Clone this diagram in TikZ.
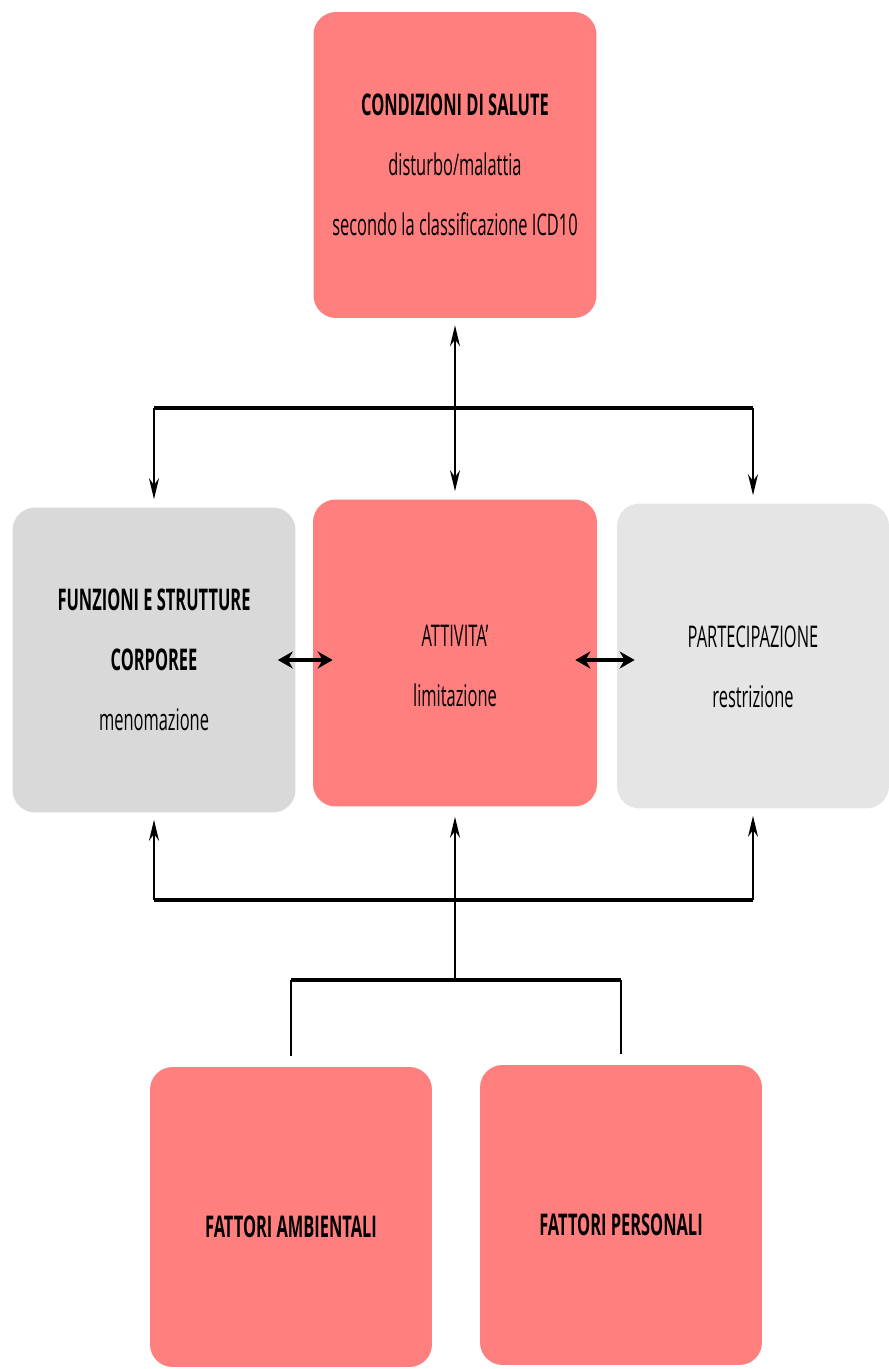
\documentclass[tikz,border=0pt]{standalone}
\usepackage{fontspec}
\setmainfont{Open Sans}[FakeStretch=0.55]
\usetikzlibrary{arrows.meta,positioning}
\definecolor{rosso}{RGB}{255,127,127}
\definecolor{grigio}{RGB}{217,217,217}
\definecolor{grigiochiaro}{RGB}{229,229,229}
\tikzset{
  box/.style={rounded corners=0.45cm, minimum width=5.66cm, minimum height=6.1cm, inner sep=0pt},
  testo/.style={align=center, inner sep=0pt, font=\fontsize{17}{34}\selectfont},
  bus/.style={line width=2.2pt},
  link/.style={line width=1.1pt},
  punta/.tip={Stealth[length=0.42cm,width=0.2cm]},
  puntona/.tip={Stealth[length=0.3cm,width=0.34cm]}
}

\begin{document}
\begin{tikzpicture}[x=0.02cm,y=-0.02cm]
			%%%%% BOXES %%%%%
			\useasboundingbox (0,0) rectangle (889,1369);
			
			\node[box, fill=rosso, minimum height=6.12cm] (salute) at (455,165) {};
			\node[testo] (salute-t) at (salute.center)
			{\textbf{CONDIZIONI DI SALUTE}\\disturbo/malattia\\secondo la classificazione ICD10};
			
			\node[box, fill=grigio] (funzioni) at (154,660) {};
			\node[testo] (funzioni-t) at (funzioni.center)
			{\textbf{FUNZIONI E STRUTTURE}\\\textbf{CORPOREE}\\menomazione};
			\node[box, fill=rosso, minimum width=5.68cm, minimum height=6.14cm] (attivita) at (455,653) {};
			\node[testo] (attivita-t) at ([yshift=-0.26cm]attivita.center) {ATTIVITA'\\limitazione};
			\node[box, fill=grigiochiaro, minimum width=5.44cm] (partecipazione) at (753,656) {};
			\node[testo] (partecipazione-t) at ([yshift=-0.22cm]partecipazione.center) {PARTECIPAZIONE\\restrizione};
			
			\node[box, fill=rosso, minimum width=5.64cm, minimum height=6cm] (ambientali) at (291,1217) {};
			\node[testo] (ambientali-t) at ([yshift=-0.2cm]ambientali.center) {\textbf{FATTORI AMBIENTALI}};
			\node[box, fill=rosso, minimum width=5.64cm, minimum height=6cm] (personali) at (621,1215) {};
			\node[testo] (personali-t) at ([yshift=-0.2cm]personali.center) {\textbf{FATTORI PERSONALI}};
			
			%%%%% CONNECTORS %%%%%
			\coordinate (bussopra) at (455,408);
			\coordinate (bussotto) at (455,900);
			\coordinate (busfattori) at (455,980);
			
			\draw[link, punta-punta, shorten <=0.14cm, shorten >=0.16cm] (salute.south) -- (attivita.north);
			\draw[bus] (funzioni.north |- bussopra) -- (partecipazione.north |- bussopra);
			\draw[link, -punta, shorten >=0.16cm] (funzioni.north |- bussopra) -- (funzioni.north);
			\draw[link, -punta, shorten >=0.16cm] (partecipazione.north |- bussopra) -- (partecipazione.north);
			
			\draw[bus, puntona-puntona, shorten <=-0.36cm, shorten >=-0.4cm] (funzioni.east) -- (funzioni.east -| attivita.west);
			\draw[bus, puntona-puntona, shorten <=-0.44cm, shorten >=-0.36cm] (attivita.east |- funzioni.east) -- (funzioni.east -| partecipazione.west);
			
			\draw[bus] (funzioni.south |- bussotto) -- (partecipazione.south |- bussotto);
			\draw[link, -punta, shorten >=0.14cm] (funzioni.south |- bussotto) -- (funzioni.south);
			\draw[link, -punta, shorten >=0.14cm] (partecipazione.south |- bussotto) -- (partecipazione.south);
			\draw[link, -punta, shorten >=0.2cm] (busfattori) -- (attivita.south);
			
			\draw[bus] (ambientali.north |- busfattori) -- (personali.north |- busfattori);
			\draw[link, shorten >=0.22cm] (ambientali.north |- busfattori) -- (ambientali.north);
			\draw[link, shorten >=0.22cm] (personali.north |- busfattori) -- (personali.north);
			
			%%%%% END %%%%%
\end{tikzpicture}
\end{document}
